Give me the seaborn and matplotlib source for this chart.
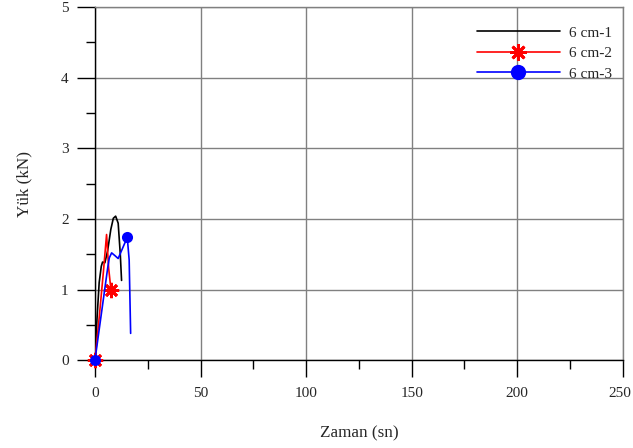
import matplotlib
matplotlib.use("Agg")
import matplotlib.pyplot as plt
import matplotlib.transforms as mtransforms
import seaborn as sns
import pandas as pd

# Data
t1 = [0.0, 1.0, 2.0, 3.0, 3.6, 4.7, 6.0, 7.5, 8.7, 9.8, 11.0, 12.0, 12.6]
v1 = [0.0, 0.6, 1.1, 1.33, 1.39, 1.38, 1.55, 1.85, 2.01, 2.04, 1.94, 1.5, 1.13]
t2 = [0.0, 2.0, 4.0, 5.5, 6.5, 7.6]
v2 = [0.0, 0.6, 1.25, 1.78, 1.3, 0.99]
t3 = [0.0, 3.0, 6.0, 6.8, 7.9, 9.5, 11.0, 13.0, 15.3, 16.2, 16.9]
v3 = [0.0, 0.65, 1.3, 1.45, 1.52, 1.48, 1.44, 1.58, 1.74, 1.42, 0.38]
labels = ["6 cm-1", "6 cm-2", "6 cm-3"]
xticks = [0, 50, 100, 150, 200, 250]
yticks = [0, 1, 2, 3, 4, 5]

sns.set_style("white")
plt.rcParams['font.family'] = ['Liberation Serif', 'DejaVu Serif']

fig = plt.figure(figsize=(6.33, 4.48), dpi=100)
ax = fig.add_axes([0.150, 0.196, 0.834, 0.788])

df1 = pd.DataFrame({"t": t1, "v": v1})
df2 = pd.DataFrame({"t": t2, "v": v2})
df3 = pd.DataFrame({"t": t3, "v": v3})

sns.lineplot(data=df1, x="t", y="v", ax=ax, sort=False, estimator=None,
             color="black", lw=1.2, label=labels[0], zorder=5)
sns.lineplot(data=df2, x="t", y="v", ax=ax, sort=False, estimator=None,
             color="red", lw=1.2, marker=(8, 2, 0), markersize=11, mew=2,
             mec="red", mfc="red",
             markevery=[0, len(t2) - 1], label=labels[1], zorder=5, clip_on=False)
sns.lineplot(data=df3, x="t", y="v", ax=ax, sort=False, estimator=None,
             color="blue", lw=1.2, marker="o", markersize=8, mew=0,
             mec="blue", mfc="blue",
             markevery=[0, 8], label=labels[2], zorder=6, clip_on=False)

ax.set_xlim(0, 250)
ax.set_ylim(0, 5)
ax.set_xticks(xticks)
ax.set_yticks(yticks)
ax.set_xticks([25, 75, 125, 175, 225], minor=True)
ax.set_yticks([0.5, 1.5, 2.5, 3.5, 4.5], minor=True)
ax.grid(True, which="major", color="#808080", lw=1.0)
ax.set_axisbelow(True)

for s in ["top", "right"]:
    ax.spines[s].set_color("#808080")
    ax.spines[s].set_linewidth(1.0)
for s in ["left", "bottom"]:
    ax.spines[s].set_color("black")
    ax.spines[s].set_linewidth(1.0)

ax.tick_params(axis="both", which="major", direction="out", length=12.5, width=1,
               color="black", labelsize=11, pad=7, bottom=True, left=True)
ax.tick_params(axis="both", which="minor", direction="out", length=6.5, width=1,
               color="black", bottom=True, left=True)
ax.tick_params(axis="y", which="major", length=13, pad=6)

# nudge the last x tick label slightly left so it stays inside the figure
last = ax.get_xticklabels()[-1]
last.set_transform(last.get_transform() +
                   mtransforms.ScaledTranslation(-2 / 72, 0, fig.dpi_scale_trans))

ax.set_xlabel("Zaman (sn)", fontsize=12.3, labelpad=18)
ax.set_ylabel("Yük (kN)", fontsize=12.3, labelpad=20.5)

leg = ax.legend(loc="upper left", bbox_to_anchor=(477 / 633, 1 - 26 / 448),
                bbox_transform=fig.transFigure, frameon=False,
                fontsize=11, handlelength=5.4, handletextpad=0.65,
                labelspacing=0.45, borderpad=0, borderaxespad=0)
for h in leg.legend_handles:
    if h.get_marker() == "o":
        h.set_markersize(11)
    elif h.get_marker() not in (None, "None", ""):
        h.set_markersize(12)

fig.savefig("out.png", dpi=100)
